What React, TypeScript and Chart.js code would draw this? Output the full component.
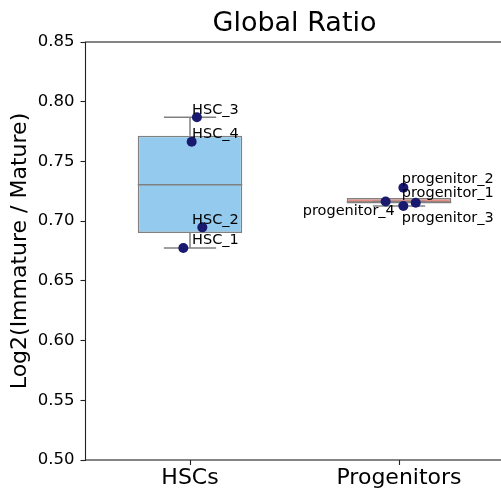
import React, { useEffect, useRef } from "react";
import { Chart, registerables } from "chart.js";

Chart.register(...registerables);

const categories = ["HSCs", "Progenitors"];
const yTickValues = [0.5, 0.55, 0.6, 0.65, 0.7, 0.75, 0.8, 0.85];

// box statistics per category
const boxQ1 = [0.69, 0.7147];
const boxMedian = [0.7305, 0.716];
const boxQ3 = [0.7716, 0.7194];
const whiskerLow = [0.6775, 0.7127];
const whiskerHigh = [0.787, 0.7165];
const boxColors = ["#93CAED", "#E98D83"];

// individual samples
const sampleNames = [
  "HSC_1", "HSC_2", "HSC_3", "HSC_4",
  "progenitor_1", "progenitor_2", "progenitor_3", "progenitor_4",
];
const sampleX = [-0.032, 0.059, 0.033, 0.008, 1.08, 1.021, 1.021, 0.936];
const sampleY = [0.6775, 0.6948, 0.787, 0.7665, 0.7154, 0.728, 0.7127, 0.7165];
// label anchors (data units)
const labelX = [0.01, 0.01, 0.01, 0.01, 1.013, 1.013, 1.013, 0.98];
const labelY = [0.6805, 0.6978, 0.790, 0.7695, 0.7204, 0.7319, 0.6995, 0.7051];
const labelAlign = ["left", "left", "left", "left", "left", "left", "left", "right"];

const FONT = "DejaVu Sans";
const EDGE = "#808080";
const AXIS = "#222222";

const extrasPlugin = {
  id: "boxExtras",
  afterDatasetDraw(chart: any, args: any) {
    if (args.index !== 0) return;
    const { ctx, scales } = chart;
    const x = scales.x;
    const y = scales.y;
    const meta = chart.getDatasetMeta(0);
    ctx.save();
    ctx.strokeStyle = EDGE;
    ctx.lineWidth = 1.5;
    const seg = (x1: number, y1: number, x2: number, y2: number) => {
      ctx.beginPath();
      ctx.moveTo(x1, y1);
      ctx.lineTo(x2, y2);
      ctx.stroke();
    };
    categories.forEach((_, i) => {
      const bar = meta.data[i];
      const cx = x.getPixelForValue(i);
      const half = bar.width / 2;
      const cap = half / 2;
      seg(cx - half, y.getPixelForValue(boxMedian[i]), cx + half, y.getPixelForValue(boxMedian[i]));
      if (whiskerHigh[i] > boxQ3[i]) seg(cx, y.getPixelForValue(boxQ3[i]), cx, y.getPixelForValue(whiskerHigh[i]));
      if (whiskerLow[i] < boxQ1[i]) seg(cx, y.getPixelForValue(boxQ1[i]), cx, y.getPixelForValue(whiskerLow[i]));
      seg(cx - cap, y.getPixelForValue(whiskerHigh[i]), cx + cap, y.getPixelForValue(whiskerHigh[i]));
      seg(cx - cap, y.getPixelForValue(whiskerLow[i]), cx + cap, y.getPixelForValue(whiskerLow[i]));
    });
    ctx.restore();
  },
  afterDatasetsDraw(chart: any) {
    const { ctx, scales } = chart;
    const x = scales.x;
    const y = scales.y;
    ctx.save();
    ctx.fillStyle = "#000";
    ctx.font = `14.5px "${FONT}"`;
    ctx.textBaseline = "alphabetic";
    sampleNames.forEach((name, i) => {
      ctx.textAlign = labelAlign[i];
      ctx.fillText(name, x.getPixelForValue(labelX[i]), y.getPixelForValue(labelY[i]));
    });
    ctx.restore();
  },
  afterDraw(chart: any) {
    const { ctx, chartArea } = chart;
    ctx.save();
    ctx.strokeStyle = AXIS;
    ctx.lineWidth = 1.1;
    ctx.strokeRect(chartArea.left, chartArea.top, chartArea.right - chartArea.left, chartArea.bottom - chartArea.top);
    ctx.restore();
  },
};

export default function App() {
  const ref = useRef<HTMLCanvasElement>(null);
  useEffect(() => {
    const canvas = ref.current;
    if (!canvas) return;
    const chart = new Chart(canvas, {
      type: "bar",
      data: {
        datasets: [
          {
            type: "bar",
            data: categories.map((_, i) => ({ x: i, y: [boxQ1[i], boxQ3[i]] })) as any,
            backgroundColor: boxColors,
            borderColor: EDGE,
            borderWidth: 1.5,
            borderSkipped: false,
            barPercentage: 0.5,
            categoryPercentage: 1,
            order: 2,
          } as any,
          {
            type: "scatter",
            data: sampleNames.map((_, i) => ({ x: sampleX[i], y: sampleY[i] })),
            backgroundColor: "#191970",
            borderWidth: 0,
            pointRadius: 5,
            order: 1,
          } as any,
        ],
      },
      options: {
        responsive: false,
        animation: false,
        layout: { padding: { left: 0, right: 16.5, top: 0, bottom: 0 } },
        plugins: {
          legend: { display: false },
          tooltip: { enabled: false },
          title: {
            display: true,
            text: "Global Ratio",
            fullSize: false,
            color: "#000",
            font: { family: FONT, size: 27, weight: "normal", lineHeight: 1.2 },
            padding: { top: 7.5, bottom: 2.1 },
          },
        },
        scales: {
          x: {
            type: "linear",
            min: -0.5,
            max: 1.5,
            offset: false,
            afterBuildTicks: (scale: any) => {
              scale.ticks = categories.map((_, i) => ({ value: i }));
            },
            afterFit: (scale: any) => {
              scale.height = 28;
            },
            border: { display: false },
            grid: { offset: false, drawOnChartArea: false, drawTicks: true, tickLength: 5, tickColor: AXIS, tickWidth: 1.1 },
            ticks: {
              color: "#000",
              font: { family: FONT, size: 22 },
              padding: 0,
              maxRotation: 0,
              autoSkip: false,
              callback: (v: any) => categories[Math.round(v)] ?? "",
            },
          },
          y: {
            type: "linear",
            min: 0.5,
            max: 0.85,
            afterBuildTicks: (scale: any) => {
              scale.ticks = yTickValues.map((v) => ({ value: v }));
            },
            afterFit: (scale: any) => {
              scale.width = 85.5;
            },
            border: { display: false },
            grid: { drawOnChartArea: false, drawTicks: true, tickLength: 5, tickColor: AXIS, tickWidth: 1.1 },
            ticks: {
              color: "#000",
              font: { family: FONT, size: 16.5 },
              padding: 6,
              callback: (v: any) => Number(v).toFixed(2),
            },
            title: {
              display: true,
              text: "Log2(Immature / Mature)",
              color: "#000",
              font: { family: FONT, size: 22, lineHeight: 1.2 },
              padding: { top: 7, bottom: 0 },
            },
          },
        },
      } as any,
      plugins: [extrasPlugin],
    });
    return () => chart.destroy();
  }, []);
  return (
    <div
      style={{
        position: "fixed",
        left: 0,
        top: 0,
        width: 501,
        height: 488,
        overflow: "hidden",
        background: "#fff",
      }}
    >
      <canvas ref={ref} width={520} height={488} style={{ display: "block", width: 520, height: 488 }} />
    </div>
  );
}
